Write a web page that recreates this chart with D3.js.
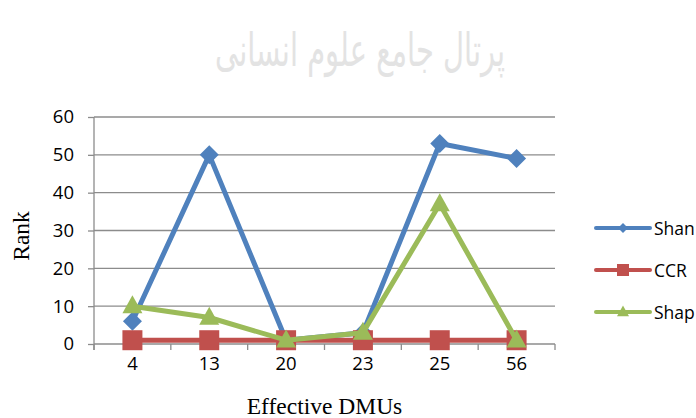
<!DOCTYPE html>
<html>
<head>
<meta charset="utf-8">
<script src="https://cdn.jsdelivr.net/npm/d3@7"></script>
<style>
  html, body { margin: 0; padding: 0; background: #fff; }
  svg { display: block; }
</style>
</head>
<body>
<svg id="chart" width="696" height="418"></svg>
<script>
const categories = ["4", "13", "20", "23", "25", "56"];
const shanValues = [6, 50, 1, 3, 53, 49];
const ccrValues = [1, 1, 1, 1, 1, 1];
const shapValues = [10, 7, 1, 3, 37, 1];
const yTicks = [0, 10, 20, 30, 40, 50, 60];
const seriesNames = ["Shan", "CCR", "Shap"];
const seriesColors = ["#4F81BD", "#C0504D", "#9BBB59"];
const seriesShapes = ["diamond", "square", "triangle"];
const xTitle = "Effective DMUs";
const yTitle = "Rank";
const watermark = "پرتال جامع علوم انسانی";

const svg = d3.select("#chart");
const plot = { left: 94, right: 555, top: 117, bottom: 344 };

const x = d3.scaleBand().domain(categories).range([plot.left, plot.right]).padding(0);
const y = d3.scaleLinear().domain([0, 60]).range([plot.bottom, plot.top]);

// watermark
svg.append("text")
  .attr("x", 360).attr("y", 66)
  .attr("text-anchor", "middle")
  .attr("direction", "rtl")
  .attr("font-family", "DejaVu Sans, Noto Sans")
  .attr("font-size", 46)
  .attr("textLength", 290)
  .attr("lengthAdjust", "spacingAndGlyphs")
  .attr("fill", "#e3e3e3")
  .text(watermark);

// gridlines
svg.append("g").selectAll("line").data(yTicks.filter(d => d > 0)).join("line")
  .attr("x1", plot.left).attr("x2", plot.right)
  .attr("y1", d => y(d)).attr("y2", d => y(d))
  .attr("stroke", "#8c8c8c").attr("stroke-width", 1.3);

// y axis
const yAxis = d3.axisLeft(y).tickValues(yTicks).tickSize(6).tickPadding(14);
const gy = svg.append("g").attr("transform", `translate(${plot.left},0)`).call(yAxis);
gy.select(".domain").attr("stroke", "#8c8c8c").attr("stroke-width", 1.3)
  .attr("d", `M0,${plot.top}V${plot.bottom + 6}`);
gy.selectAll(".tick line").attr("stroke", "#8c8c8c").attr("stroke-width", 1.3);
gy.selectAll(".tick text").attr("font-family", "Open Sans, sans-serif").attr("font-size", 18.5).attr("fill", "#000");

// x axis
const xAxis = d3.axisBottom(x).tickSize(0).tickPadding(13);
const gx = svg.append("g").attr("transform", `translate(0,${plot.bottom})`).call(xAxis);
gx.select(".domain").attr("stroke", "#8c8c8c").attr("stroke-width", 1.3)
  .attr("d", `M${plot.left},0H${plot.right}`);
gx.selectAll(".tick text").attr("font-family", "Open Sans, sans-serif").attr("font-size", 18.5).attr("fill", "#000");
// boundary tick marks
const bounds = categories.map(c => x(c)).concat([x(categories[categories.length - 1]) + x.bandwidth()]);
gx.append("g").selectAll("line").data(bounds).join("line")
  .attr("x1", d => d).attr("x2", d => d).attr("y1", 0).attr("y2", 6)
  .attr("stroke", "#8c8c8c").attr("stroke-width", 1.3);

// titles
svg.append("text").attr("x", (plot.left + plot.right) / 2).attr("y", 414)
  .attr("text-anchor", "middle").attr("font-family", "Liberation Serif, Times New Roman, serif")
  .attr("font-size", 23.5).text(xTitle);
svg.append("text").attr("transform", "translate(29,236) rotate(-90)")
  .attr("text-anchor", "middle").attr("font-family", "Liberation Serif, Times New Roman, serif")
  .attr("font-size", 23.5).text(yTitle);

function symbolPath(shape, size) {
  const s = size / 2;
  if (shape === "diamond") return `M0,${-s}L${s},0L0,${s}L${-s},0Z`;
  if (shape === "square") return `M${-s},${-s}H${s}V${s}H${-s}Z`;
  const h = size * 0.9;
  return `M0,${-h * 0.6}L${s},${h * 0.4}L${-s},${h * 0.4}Z`;
}

const allSeries = [shanValues, ccrValues, shapValues];
const line = d3.line().x((d, i) => x(categories[i]) + x.bandwidth() / 2).y(d => y(d));

allSeries.forEach((vals, si) => {
  const g = svg.append("g");
  g.append("path").datum(vals).attr("d", line)
    .attr("fill", "none").attr("stroke", seriesColors[si]).attr("stroke-width", 5)
    .attr("stroke-linejoin", "round").attr("stroke-linecap", "round");
  g.selectAll("path.m").data(vals).join("path").attr("class", "m")
    .attr("transform", (d, i) => `translate(${x(categories[i]) + x.bandwidth() / 2},${y(d)})`)
    .attr("d", symbolPath(seriesShapes[si], si === 0 ? 19 : 20))
    .attr("fill", seriesColors[si]);
});

// legend
const legendY = [228, 270, 312];
seriesNames.forEach((name, i) => {
  const g = svg.append("g").attr("transform", `translate(0,${legendY[i]})`);
  g.append("line").attr("x1", 596).attr("x2", 650).attr("y1", 0).attr("y2", 0)
    .attr("stroke", seriesColors[i]).attr("stroke-width", 4).attr("stroke-linecap", "round");
  g.append("path").attr("transform", "translate(623,0)")
    .attr("d", symbolPath(seriesShapes[i], i === 0 ? 10 : 12)).attr("fill", seriesColors[i]);
  g.append("text").attr("x", 654).attr("y", 6.5)
    .attr("font-family", "Open Sans, sans-serif").attr("font-size", 17.5).text(name);
});
</script>
</body>
</html>
